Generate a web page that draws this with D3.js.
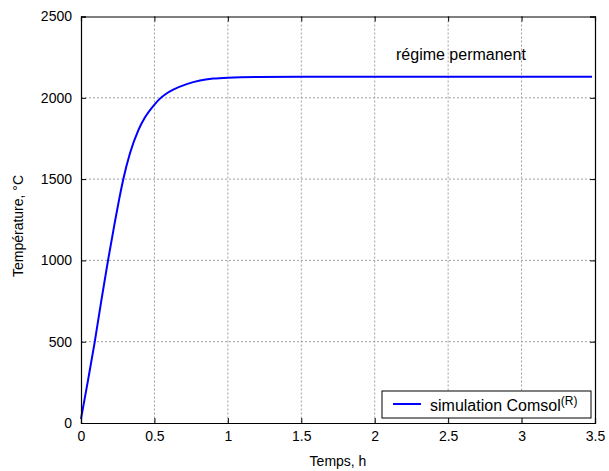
<!DOCTYPE html>
<html>
<head>
<meta charset="utf-8">
<script src="https://cdn.jsdelivr.net/npm/d3@7"></script>
<style>
  body { margin: 0; background: #fff; }
  svg { display: block; font-family: "Liberation Sans", Arial, sans-serif; }
</style>
</head>
<body>
<svg id="chart" width="609" height="471"></svg>
<script>
// values
var timeH = [0, 0.048, 0.093, 0.139, 0.184, 0.229, 0.259, 0.288, 0.334, 0.39, 0.436, 0.499, 0.538, 0.58, 0.628, 0.72, 0.81, 0.9, 1.0, 1.2, 1.5, 2.0, 2.5, 3.0, 3.48];
var tempC = [25, 264, 496, 756, 1000, 1228, 1372, 1499, 1660, 1800, 1880, 1957, 1995, 2025, 2050, 2084, 2106, 2118, 2124, 2128, 2129, 2130, 2130, 2130, 2130];
var xTicks = [0, 0.5, 1, 1.5, 2, 2.5, 3, 3.5];
var yTicks = [0, 500, 1000, 1500, 2000, 2500];
var seriesName = "simulation Comsol";
var noteText = "régime permanent";

var svg = d3.select("#chart");
var pLeft = 81, pRight = 595, pTop = 16.5, pBottom = 423;

var x = d3.scaleLinear().domain([0, 3.5]).range([pLeft, pRight]);
var y = d3.scaleLinear().domain([0, 2500]).range([pBottom, pTop]);

// grid
svg.append("g").selectAll("line").data(xTicks.slice(1, -1)).enter().append("line")
  .attr("x1", function(d){ return x(d); })
  .attr("x2", function(d){ return x(d); })
  .attr("y1", pTop).attr("y2", pBottom)
  .style("stroke", "#a0a0a0").style("stroke-width", 1)
  .style("stroke-dasharray", "2,2");
svg.append("g").selectAll("line").data(yTicks.slice(1, -1)).enter().append("line")
  .attr("y1", function(d){ return y(d); })
  .attr("y2", function(d){ return y(d); })
  .attr("x1", pLeft).attr("x2", pRight)
  .style("stroke", "#a0a0a0").style("stroke-width", 1)
  .style("stroke-dasharray", "2,2");

// curve
var line = d3.line()
  .x(function(d, i){ return x(timeH[i]); })
  .y(function(d){ return y(d); })
  .curve(d3.curveMonotoneX);
svg.append("path").datum(tempC)
  .attr("d", line)
  .style("fill", "none")
  .style("stroke", "#0000ff")
  .style("stroke-width", 2);

// axes (box with inward ticks)
var axB = d3.axisBottom(x).tickValues(xTicks).tickSize(-5).tickPadding(8)
  .tickFormat(function(d){ return String(d); });
var axT = d3.axisTop(x).tickValues(xTicks).tickSize(-5).tickFormat("");
var axL = d3.axisLeft(y).tickValues(yTicks).tickSize(-5).tickPadding(9)
  .tickFormat(function(d){ return String(d); });
var axR = d3.axisRight(y).tickValues(yTicks).tickSize(-5).tickFormat("");

function style(g){
  g.select(".domain").style("stroke", "#000").style("stroke-width", 1.2);
  g.selectAll(".tick line").style("stroke", "#000");
  g.selectAll("text").style("font-size", "14px").style("fill", "#000")
    .style("font-family", "Liberation Sans, Arial, sans-serif");
}
svg.append("g").attr("transform", "translate(0," + pBottom + ")").call(axB).call(style);
svg.append("g").attr("transform", "translate(0," + pTop + ")").call(axT).call(style);
svg.append("g").attr("transform", "translate(" + pLeft + ",0)").call(axL).call(style);
svg.append("g").attr("transform", "translate(" + pRight + ",0)").call(axR).call(style);

// axis titles
svg.append("text")
  .attr("x", 338).attr("y", 466)
  .attr("text-anchor", "middle")
  .style("font-size", "14px")
  .text("Temps, h");
svg.append("text")
  .attr("transform", "translate(23,226) rotate(-90)")
  .attr("text-anchor", "middle")
  .style("font-size", "14px")
  .text("Température, °C");

// annotation
svg.append("text")
  .attr("x", 396).attr("y", 60)
  .style("font-size", "16px")
  .text(noteText);

// legend
var lg = svg.append("g");
lg.append("rect")
  .attr("x", 382).attr("y", 391).attr("width", 209).attr("height", 27)
  .style("fill", "#fff").style("stroke", "#000").style("stroke-width", 1);
lg.append("line")
  .attr("x1", 393).attr("x2", 421).attr("y1", 404).attr("y2", 404)
  .style("stroke", "#0000ff").style("stroke-width", 2);
var lt = lg.append("text").attr("x", 430).attr("y", 411).style("font-size", "16px");
lt.append("tspan").text(seriesName);
lt.append("tspan").attr("dy", -6).style("font-size", "12px").text("(R)");
</script>
</body>
</html>
